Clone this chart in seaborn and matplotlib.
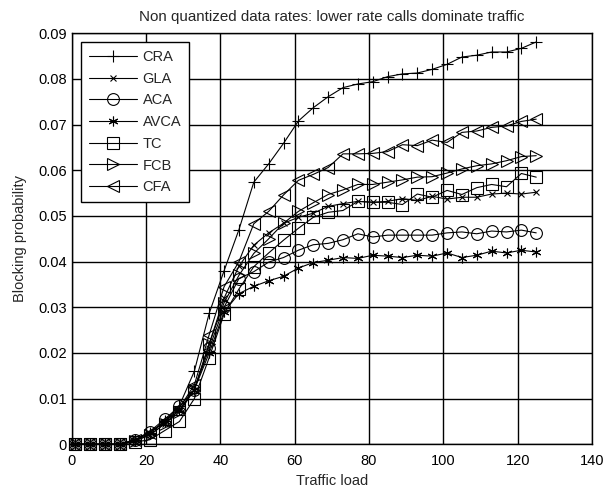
import matplotlib
matplotlib.use("Agg")
import matplotlib.pyplot as plt
import seaborn as sns
import pandas as pd

traffic = [1, 5, 9, 13, 17, 21, 25, 29, 33, 37, 41, 45, 49, 53, 57, 61,
           65, 69, 73, 77, 81, 85, 89, 93, 97, 101, 105, 109, 113, 117, 121, 125]

cra = [0, 0, 0, 0, 0.0009, 0.0025, 0.005, 0.0085, 0.016, 0.0287, 0.038, 0.047,
       0.0574, 0.0614, 0.0659, 0.0708, 0.0737, 0.0761, 0.0781, 0.0789, 0.0794, 0.0805,
       0.0811, 0.0813, 0.0821, 0.0832, 0.0848, 0.0852, 0.0859, 0.0859, 0.0867, 0.0881]
gla = [0, 0, 0, 0, 0.0008, 0.002, 0.0045, 0.0075, 0.012, 0.022, 0.032, 0.039,
       0.0436, 0.0463, 0.0484, 0.0497, 0.0506, 0.0521, 0.0527, 0.0532, 0.053, 0.0532,
       0.0538, 0.0534, 0.0543, 0.0537, 0.0541, 0.0541, 0.0548, 0.055, 0.0548, 0.0552]
aca = [0, 0, 0, 0, 0.001, 0.0028, 0.0055, 0.0083, 0.012, 0.021, 0.030, 0.0363,
       0.0378, 0.0399, 0.0409, 0.0425, 0.0437, 0.044, 0.0448, 0.0461, 0.0454, 0.0458,
       0.0458, 0.0458, 0.0458, 0.0463, 0.0465, 0.0461, 0.0467, 0.0465, 0.0469, 0.0463]
avca = [0, 0, 0, 0, 0.0009, 0.0025, 0.005, 0.0075, 0.012, 0.020, 0.029, 0.033,
        0.0346, 0.0358, 0.0368, 0.0386, 0.0398, 0.0403, 0.0409, 0.0407, 0.0414, 0.0412,
        0.0409, 0.0414, 0.0412, 0.0419, 0.0409, 0.0414, 0.0423, 0.0419, 0.0425, 0.0421]
tc = [0, 0, 0, 0, 0.0005, 0.001, 0.003, 0.005, 0.010, 0.019, 0.0285, 0.034,
      0.0389, 0.0419, 0.0447, 0.0473, 0.0497, 0.0508, 0.0512, 0.0532, 0.053, 0.053,
      0.0525, 0.0548, 0.0541, 0.0556, 0.0547, 0.0562, 0.0569, 0.0564, 0.0593, 0.0585]
fcb = [0, 0, 0, 0, 0.0008, 0.002, 0.0045, 0.007, 0.012, 0.022, 0.031, 0.037,
       0.0418, 0.045, 0.0484, 0.051, 0.0529, 0.0547, 0.0557, 0.0569, 0.0569, 0.0574,
       0.0579, 0.0585, 0.0586, 0.0594, 0.0603, 0.061, 0.0614, 0.0621, 0.063, 0.0632]
cfa = [0, 0, 0, 0, 0.001, 0.0025, 0.005, 0.008, 0.013, 0.024, 0.0345, 0.040,
       0.0483, 0.051, 0.0546, 0.0578, 0.0591, 0.0606, 0.0636, 0.0636, 0.0637, 0.0641,
       0.0656, 0.0654, 0.0666, 0.0661, 0.0683, 0.0686, 0.0694, 0.0697, 0.0707, 0.0712]

series_names = ["CRA", "GLA", "ACA", "AVCA", "TC", "FCB", "CFA"]
series_values = [cra, gla, aca, avca, tc, fcb, cfa]
markers = ["+", "x", "o", (6, 2, 0), "s", ">", "<"]
msizes = [9, 4.5, 8.5, 7, 8.5, 9, 9]

x_ticks = [0, 20, 40, 60, 80, 100, 120, 140]
y_ticks = [0, 0.01, 0.02, 0.03, 0.04, 0.05, 0.06, 0.07, 0.08, 0.09]
y_ticklabels = ["0", "0.01", "0.02", "0.03", "0.04", "0.05", "0.06", "0.07", "0.08", "0.09"]

sns.set_style("whitegrid", {"grid.color": "black", "axes.edgecolor": "black"})
plt.rcParams["font.family"] = ["Liberation Sans", "DejaVu Sans"]

fig = plt.figure(figsize=(6.16, 4.88), dpi=100)
ax = fig.add_axes([0.1164, 0.0895, 0.8446, 0.8423])

for name, vals, mk, ms in zip(series_names, series_values, markers, msizes):
    df = pd.DataFrame({"Traffic load": traffic, "Blocking probability": vals})
    sns.lineplot(data=df, x="Traffic load", y="Blocking probability", ax=ax,
                 color="black", linewidth=0.8, marker=mk, markersize=ms,
                 markerfacecolor="none", markeredgecolor="black",
                 markeredgewidth=0.8, label=name, clip_on=False, zorder=3)

ax.set_xlim(0, 140)
ax.set_ylim(0, 0.09)
ax.set_xticks(x_ticks)
ax.set_yticks(y_ticks)
ax.set_yticklabels(y_ticklabels)
ax.grid(True, color="black", linewidth=1.0)
ax.set_axisbelow(True)
for sp in ax.spines.values():
    sp.set_visible(True)
    sp.set_color("black")
    sp.set_linewidth(1.0)
ax.tick_params(axis="both", labelsize=10.5, length=0, colors="black")
ax.tick_params(axis="x", pad=7)
ax.tick_params(axis="y", pad=3.6)
ax.set_xlabel("Traffic load", fontsize=10.5, labelpad=4)
ax.set_ylabel("Blocking probability", fontsize=10.5, labelpad=8)
ax.set_title("Non quantized data rates: lower rate calls dominate traffic",
             fontsize=10.9, pad=9)

leg = ax.legend(loc="upper left", bbox_to_anchor=(0.0173, 0.979), borderaxespad=0,
                fontsize=10.5, handlelength=3.3, handletextpad=0.4, labelspacing=0.53,
                borderpad=0.55, fancybox=False, framealpha=1, edgecolor="black")
leg.get_frame().set_linewidth(1.0)
leg.set_zorder(5)

fig.savefig("out.png", dpi=100)
